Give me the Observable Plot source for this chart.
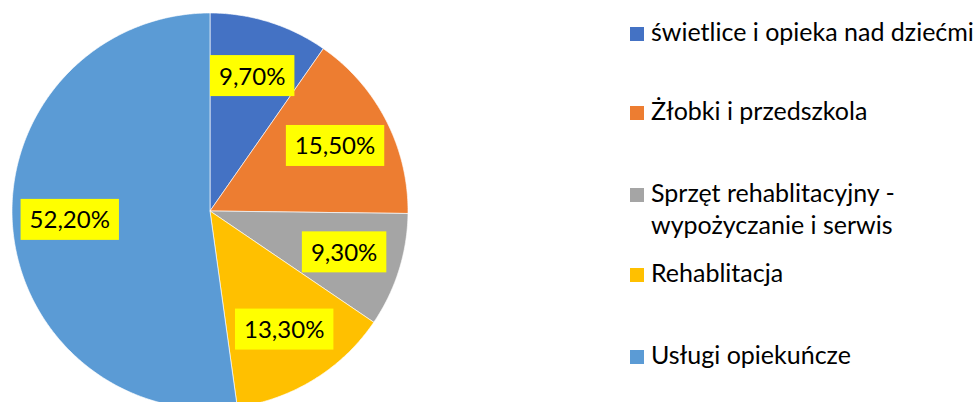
<!DOCTYPE html>
<html><head><meta charset="utf-8">
<script src="https://cdn.jsdelivr.net/npm/d3@7"></script>
<script src="https://cdn.jsdelivr.net/npm/@observablehq/plot@0.6"></script>
<style>
body{margin:0;background:#fff;font-family:Lato,"Open Sans",sans-serif;}
#wrap{position:relative;width:974px;height:402px;overflow:hidden;}
.item{position:absolute;left:630px;display:flex;align-items:flex-start;font-size:25px;line-height:32px;color:#000;white-space:nowrap;}
.sw{width:14px;height:14px;margin-top:9px;margin-right:7px;flex:none;}
.tx{margin-top:-3px;}
</style></head>
<body><div id="wrap"></div>
<script>
const categories = ["świetlice i opieka nad dziećmi", "Żłobki i przedszkola", "Sprzęt rehablitacyjny - wypożyczanie i serwis", "Rehablitacja", "Usługi opiekuńcze"];
const legendLines = [["świetlice i opieka nad dziećmi"], ["Żłobki i przedszkola"], ["Sprzęt rehablitacyjny -", "wypożyczanie i serwis"], ["Rehablitacja"], ["Usługi opiekuńcze"]];
const values = [9.7, 15.5, 9.3, 13.3, 52.2];
const colors = ["#4472C4", "#ED7D31", "#A5A5A5", "#FFC000", "#5B9BD5"];

const cx = 209.5, cy = 210.5, R = 198;
const arcs = d3.pie().sort(null).value(d => d)(values);

// wedge outlines (geometry sampled along each arc)
const wedgePts = [];
arcs.forEach((a, i) => {
  const cat = categories[i];
  wedgePts.push({cat, x: 0, y: 0});
  const n = Math.max(2, Math.ceil((a.endAngle - a.startAngle) / (Math.PI / 360)));
  for (let k = 0; k <= n; k++) {
    const t = a.startAngle + (a.endAngle - a.startAngle) * k / n;
    wedgePts.push({cat, x: Math.sin(t), y: Math.cos(t)});
  }
  wedgePts.push({cat, x: 0, y: 0});
});

const labels = arcs.map((a, i) => {
  const m = (a.startAngle + a.endAngle) / 2;
  const r = 0.71;
  return {x: r * Math.sin(m), y: r * Math.cos(m), text: values[i].toFixed(2).replace(".", ",") + "%"};
});

const chart = Plot.plot({
  width: 974, height: 402,
  margin: 0,
  style: {fontFamily: "Lato, sans-serif", background: "white"},
  x: {domain: [-1, 1], range: [cx - R, cx + R], axis: null},
  y: {domain: [-1, 1], range: [cy + R, cy - R], axis: null},
  color: {domain: categories, range: colors},
  marks: [
    Plot.line(wedgePts, {x: "x", y: "y", z: "cat", fill: "cat", stroke: "white", strokeWidth: 0.8, strokeOpacity: 0.8, curve: "linear"}),
    Plot.text(labels, {x: "x", y: "y", text: "text", fontSize: 24, fill: "black", textAnchor: "middle", lineAnchor: "middle"})
  ]
});
document.getElementById("wrap").appendChild(chart);

// yellow label boxes behind the value labels
chart.querySelectorAll("text").forEach(t => {
  if (!/%$/.test(t.textContent)) return;
  const b = t.getBBox();
  const r = document.createElementNS("http://www.w3.org/2000/svg", "rect");
  const mx = b.x + b.width / 2, my = b.y + b.height / 2;
  const w = b.width + 18, h = 41;
  r.setAttribute("x", mx - w / 2);
  r.setAttribute("y", my - h / 2 + 0.5);
  r.setAttribute("width", w);
  r.setAttribute("height", h);
  r.setAttribute("fill", "#FFFF00");
  const tr = t.getAttribute("transform");
  if (tr) r.setAttribute("transform", tr);
  t.parentNode.insertBefore(r, t);
});

// legend
const tops = [18, 97, 179, 259, 341];
const wrap = document.getElementById("wrap");
legendLines.forEach((lines, i) => {
  const it = document.createElement("div");
  it.className = "item";
  it.style.top = tops[i] + "px";
  const sw = document.createElement("div");
  sw.className = "sw";
  sw.style.background = colors[i];
  const tx = document.createElement("div");
  tx.className = "tx";
  tx.innerHTML = lines.join("<br>");
  it.appendChild(sw); it.appendChild(tx);
  wrap.appendChild(it);
});
</script>
</body></html>
